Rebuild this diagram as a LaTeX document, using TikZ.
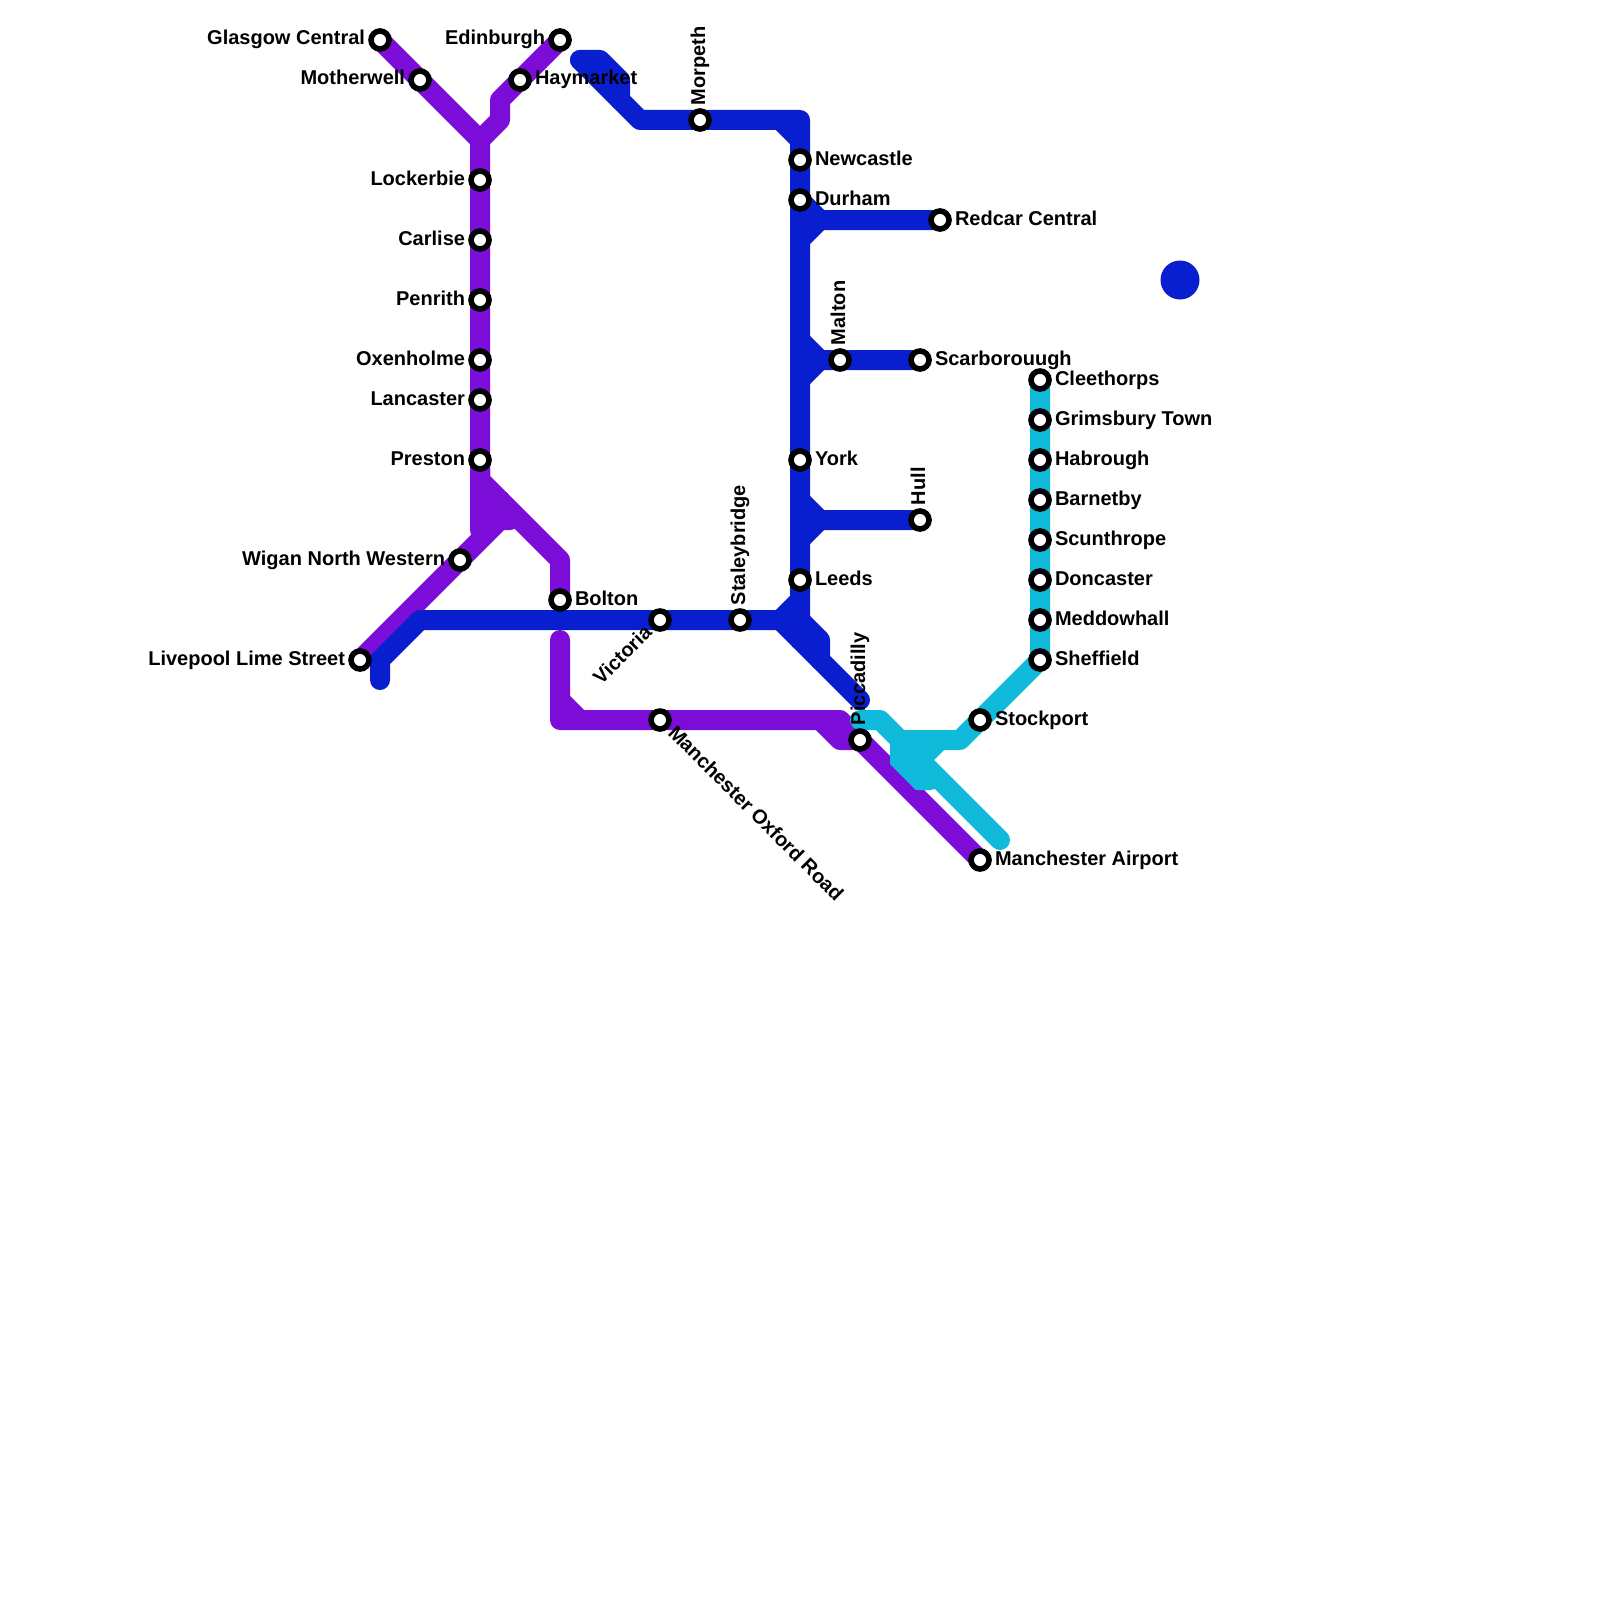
\documentclass[tikz,border=0pt]{standalone}
\usepackage{fontspec}
\setmainfont{Liberation Sans}
\definecolor{linepurple}{RGB}{124,13,217}
\definecolor{lineblue}{RGB}{9,31,207}
\definecolor{linecyan}{RGB}{15,186,218}
\tikzset{
  rail/.style={line width=10pt,line cap=round,line join=round},
  railp/.style={rail,draw=linepurple},
  railb/.style={rail,draw=lineblue},
  railc/.style={rail,draw=linecyan},
  station/.style={circle,draw=black,fill=white,line width=2.8pt,minimum size=9pt,inner sep=0pt,outer sep=0pt},
  lab/.style={inner sep=0pt,outer sep=0pt,font=\bfseries\fontsize{10}{12}\selectfont,text=black},
}
% name, x, y
\newcommand{\stn}[3]{\coordinate (#1) at (#2,#3);}
\newcommand{\ring}[1]{\node[station] (#1-s) at (#1) {};}
\newcommand{\labR}[2]{\ring{#1}\node[lab,anchor=base west] (#1-t) at ([shift={(15,5)}]#1) {#2};}
\newcommand{\labL}[2]{\ring{#1}\node[lab,anchor=base east] (#1-t) at ([shift={(-15,5)}]#1) {#2};}
\newcommand{\labU}[2]{\ring{#1}\node[lab,anchor=base west,rotate=90] (#1-t) at ([shift={(5,-15)}]#1) {#2};}
\begin{document}
\begin{tikzpicture}[x=0.5pt,y=-0.5pt]
\useasboundingbox (0,0) rectangle (1600,1600);
% stations
\stn{glasgow}{380}{40}\stn{motherwell}{420}{80}\stn{edinburgh}{560}{40}\stn{haymarket}{520}{80}
\stn{lockerbie}{480}{180}\stn{carlise}{480}{240}\stn{penrith}{480}{300}\stn{oxenholme}{480}{360}
\stn{lancaster}{480}{400}\stn{preston}{480}{460}\stn{wigan}{460}{560}\stn{livepool}{360}{660}
\stn{bolton}{560}{600}\stn{victoria}{660}{620}\stn{staley}{740}{620}\stn{oxford}{660}{720}
\stn{morpeth}{700}{120}\stn{newcastle}{800}{160}\stn{durham}{800}{200}\stn{redcar}{940}{220}
\stn{malton}{840}{360}\stn{scarb}{920}{360}\stn{york}{800}{460}\stn{hull}{920}{520}\stn{leeds}{800}{580}
\stn{piccadilly}{860}{740}\stn{airport}{980}{860}\stn{stockport}{980}{720}
\stn{cleethorps}{1040}{380}\stn{grimsbury}{1040}{420}\stn{habrough}{1040}{460}\stn{barnetby}{1040}{500}
\stn{scunthrope}{1040}{540}\stn{doncaster}{1040}{580}\stn{meddowhall}{1040}{620}\stn{sheffield}{1040}{660}
% junctions
\coordinate (pa) at (480,140);\coordinate (pb) at (500,120);\coordinate (pc) at (500,100);
\coordinate (pd) at (480,480);\coordinate (pe) at (560,560);\coordinate (pf) at (480,530);
\coordinate (pg) at (500,520);\coordinate (ph) at (510,520);\coordinate (pi) at (480,520);
\coordinate (pj) at (480,500);\coordinate (pk) at (500,500);
\coordinate (pl) at (560,640);\coordinate (pm) at (560,720);\coordinate (pn) at (560,700);\coordinate (po) at (580,720);
\coordinate (pp) at (840,720);\coordinate (pq) at (820,720);\coordinate (pr) at (840,740);
\coordinate (ba) at (380,680);\coordinate (bb) at (380,660);\coordinate (bc) at (420,620);\coordinate (bd) at (780,620);
\coordinate (be) at (800,600);\coordinate (bf) at (800,120);\coordinate (bg) at (640,120);\coordinate (bh) at (580,60);
\coordinate (bi) at (600,60);\coordinate (bj) at (620,80);\coordinate (bk) at (620,100);\coordinate (bl) at (780,120);\coordinate (bm) at (800,140);
\coordinate (bn) at (800,200);\coordinate (bo) at (820,220);\coordinate (bp) at (800,240);
\coordinate (bq) at (800,340);\coordinate (br) at (820,360);\coordinate (bs) at (800,380);
\coordinate (bt) at (800,500);\coordinate (bu) at (820,520);\coordinate (bv) at (800,540);
\coordinate (bw) at (800,640);\coordinate (bx) at (860,700);\coordinate (by) at (800,620);\coordinate (bz) at (820,640);\coordinate (bza) at (820,660);
\coordinate (ca) at (960,740);\coordinate (cb) at (900,740);\coordinate (cc) at (880,720);\coordinate (cd) at (860,720);
\coordinate (ce) at (900,760);\coordinate (cf) at (920,780);\coordinate (cg) at (930,780);\coordinate (ch) at (920,760);
\coordinate (ci) at (1000,840);\coordinate (cj) at (940,740);\coordinate (ck) at (920,740);
% blob circle
\coordinate (dot) at (1180,280);
% purple
\draw[railp] (glasgow)--(motherwell)--(pa)--(lockerbie)--(preston)--(pf);
\draw[railp] (edinburgh)--(haymarket)--(pc)--(pb)--(pa);
\draw[railp] (preston)--(pd)--(pe)--(bolton);
\draw[railp] (livepool)--(wigan)--(pg)--(ph);
\draw[railp] (pi)--(pg);
\draw[railp] (pj)--(pk);
\draw[railp] (pl)--(pm)--(oxford)--(pp)--(piccadilly)--(airport);
\draw[railp] (pn)--(po);
\draw[railp] (pq)--(pr)--(piccadilly);
% blue
\draw[railb] (ba)--(bb)--(bc)--(victoria)--(staley)--(bd)--(be);
\draw[railb] (bh)--(bi)--(bj)--(bk);
\draw[railb] (bh)--(bg)--(morpeth)--(bf)--(newcastle)--(durham)--(york)--(leeds)--(bw);
\draw[railb] (bl)--(bm);
\draw[railb] (bn)--(bo)--(redcar);\draw[railb] (bp)--(bo);
\draw[railb] (bq)--(br)--(scarb);\draw[railb] (bs)--(br);
\draw[railb] (bt)--(bu)--(hull);\draw[railb] (bv)--(bu);
\draw[railb] (bd)--(bx);
\draw[railb] (by)--(bz)--(bza);
\node[circle,fill=lineblue,minimum size=19.5pt,inner sep=0pt,outer sep=0pt] (dot-n) at (dot) {};
% cyan
\draw[railc] (cleethorps)--(sheffield)--(stockport)--(ca)--(cb)--(cc)--(cd);
\draw[railc,line join=miter] (cb)--(ce)--(cf)--(cg);
\draw[railc] (ch)--(ci);
\draw[railc] (ch)--(cj);
\draw[railc] (ck)--(cf);
% stations and labels
\labL{glasgow}{Glasgow Central}
\labL{motherwell}{Motherwell}
\labL{edinburgh}{Edinburgh}
\labR{haymarket}{Haymarket}
\labL{lockerbie}{Lockerbie}
\labL{carlise}{Carlise}
\labL{penrith}{Penrith}
\labL{oxenholme}{Oxenholme}
\labL{lancaster}{Lancaster}
\labL{preston}{Preston}
\labL{wigan}{Wigan North Western}
\labL{livepool}{Livepool Lime Street}
\labR{bolton}{Bolton}
\ring{victoria}\node[lab,anchor=base east,rotate=45] (victoria-t) at (653,634) {Victoria};
\labU{staley}{Staleybridge}
\ring{oxford}\node[lab,anchor=base west,rotate=-45] (oxford-t) at (667,734) {Manchester Oxford Road};
\labU{morpeth}{Morpeth}
\labR{newcastle}{Newcastle}
\labR{durham}{Durham}
\labR{redcar}{Redcar Central}
\labU{malton}{Malton}
\labR{scarb}{Scarborouugh}
\labR{york}{York}
\labU{hull}{Hull}
\labR{leeds}{Leeds}
\labU{piccadilly}{Piccadilly}
\labR{airport}{Manchester Airport}
\labR{stockport}{Stockport}
\labR{cleethorps}{Cleethorps}
\labR{grimsbury}{Grimsbury Town}
\labR{habrough}{Habrough}
\labR{barnetby}{Barnetby}
\labR{scunthrope}{Scunthrope}
\labR{doncaster}{Doncaster}
\labR{meddowhall}{Meddowhall}
\labR{sheffield}{Sheffield}
\end{tikzpicture}
\end{document}
